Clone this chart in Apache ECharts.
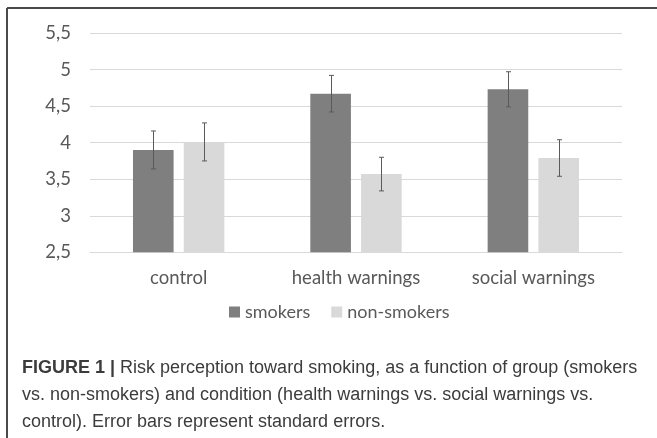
<!DOCTYPE html>
<html>
<head>
<meta charset="utf-8">
<script src="https://cdn.jsdelivr.net/npm/echarts@6/dist/echarts.min.js"></script>
<style>
  html, body { margin: 0; padding: 0; background: #fff; }
  #chart { width: 657px; height: 438px; }
</style>
</head>
<body>
<div id="chart"></div>
<script>
const categories = ['control', 'health warnings', 'social warnings'];
const smokers = [3.90, 4.67, 4.73];
const smokersSE = [0.26, 0.25, 0.24];
const nonSmokers = [4.01, 3.57, 3.79];
const nonSmokersSE = [0.26, 0.23, 0.25];
const seriesNames = ['smokers', 'non-smokers'];

const BAR_W = 0.229;   // fraction of band
const BAR_GAP = 0.25;  // fraction of bar width

function errorItem(values, ses, sign) {
  return function (params, api) {
    const i = api.value(0);
    const band = api.size([1, 0])[0];
    const bw = band * BAR_W;
    const off = sign * bw * (1 + BAR_GAP) / 2;
    const top = api.coord([i, values[i] + ses[i]]);
    const bot = api.coord([i, values[i] - ses[i]]);
    const x = Math.round(top[0] + off) + 0.5;
    const cap = 2.5;
    const st = { stroke: '#5a5a5a', lineWidth: 1 };
    return {
      type: 'group',
      children: [
        { type: 'line', shape: { x1: x, y1: top[1], x2: x, y2: bot[1] }, style: st },
        { type: 'line', shape: { x1: x - cap, y1: top[1], x2: x + cap, y2: top[1] }, style: st },
        { type: 'line', shape: { x1: x - cap, y1: bot[1], x2: x + cap, y2: bot[1] }, style: st }
      ]
    };
  };
}

const chart = echarts.init(document.getElementById('chart'));
chart.setOption({
  animation: false,
  backgroundColor: '#fff',
  grid: { left: 90, right: 35, top: 33, bottom: 185.7 },
  legend: {
    data: seriesNames,
    left: 224, top: 298,
    itemWidth: 11, itemHeight: 11, itemGap: 21,
    icon: 'rect',
    textStyle: { fontFamily: 'Lato', fontSize: 18, color: '#595959' }
  },
  xAxis: {
    type: 'category',
    data: categories,
    axisLine: { show: true, lineStyle: { color: '#d9d9d9', width: 1 } },
    axisTick: { show: false },
    axisLabel: { fontFamily: 'Lato', fontSize: 18.5, color: '#595959', margin: 16 }
  },
  yAxis: {
    type: 'value',
    min: 2.5, max: 5.5, interval: 0.5,
    axisLine: { show: false },
    axisTick: { show: false },
    splitLine: { lineStyle: { color: '#d9d9d9', width: 1 } },
    axisLabel: {
      fontFamily: 'Lato', fontSize: 18.5, color: '#595959', margin: 19,
      formatter: v => String(v).replace('.', ',')
    }
  },
  series: [
    { name: seriesNames[0], type: 'bar', data: smokers, barWidth: (BAR_W * 100) + '%', barGap: (BAR_GAP * 100) + '%', itemStyle: { color: '#7f7f7f' } },
    { name: seriesNames[1], type: 'bar', data: nonSmokers, barWidth: (BAR_W * 100) + '%', itemStyle: { color: '#d9d9d9' } },
    { type: 'custom', data: categories.map((c, i) => [i]), renderItem: errorItem(smokers, smokersSE, -1), z: 10, silent: true },
    { type: 'custom', data: categories.map((c, i) => [i]), renderItem: errorItem(nonSmokers, nonSmokersSE, 1), z: 10, silent: true }
  ],
  graphic: [
    { type: 'line', shape: { x1: 7, y1: 8, x2: 657, y2: 8 }, style: { stroke: '#4a4a4a', lineWidth: 2 } },
    { type: 'line', shape: { x1: 7, y1: 8, x2: 7, y2: 438 }, style: { stroke: '#4a4a4a', lineWidth: 2 } },
    {
      type: 'text', left: 22, top: 355,
      style: {
        text: '{b|FIGURE 1 |} Risk perception toward smoking, as a function of group (smokers\nvs. non-smokers) and condition (health warnings vs. social warnings vs.\ncontrol). Error bars represent standard errors.',
        fontFamily: 'Liberation Sans', fontSize: 18, lineHeight: 27, fill: '#3c3c3c',
        rich: { b: { fontFamily: 'Liberation Sans', fontSize: 18, fontWeight: 'bold', fill: '#3c3c3c', lineHeight: 27 } }
      }
    }
  ]
});
</script>
</body>
</html>
